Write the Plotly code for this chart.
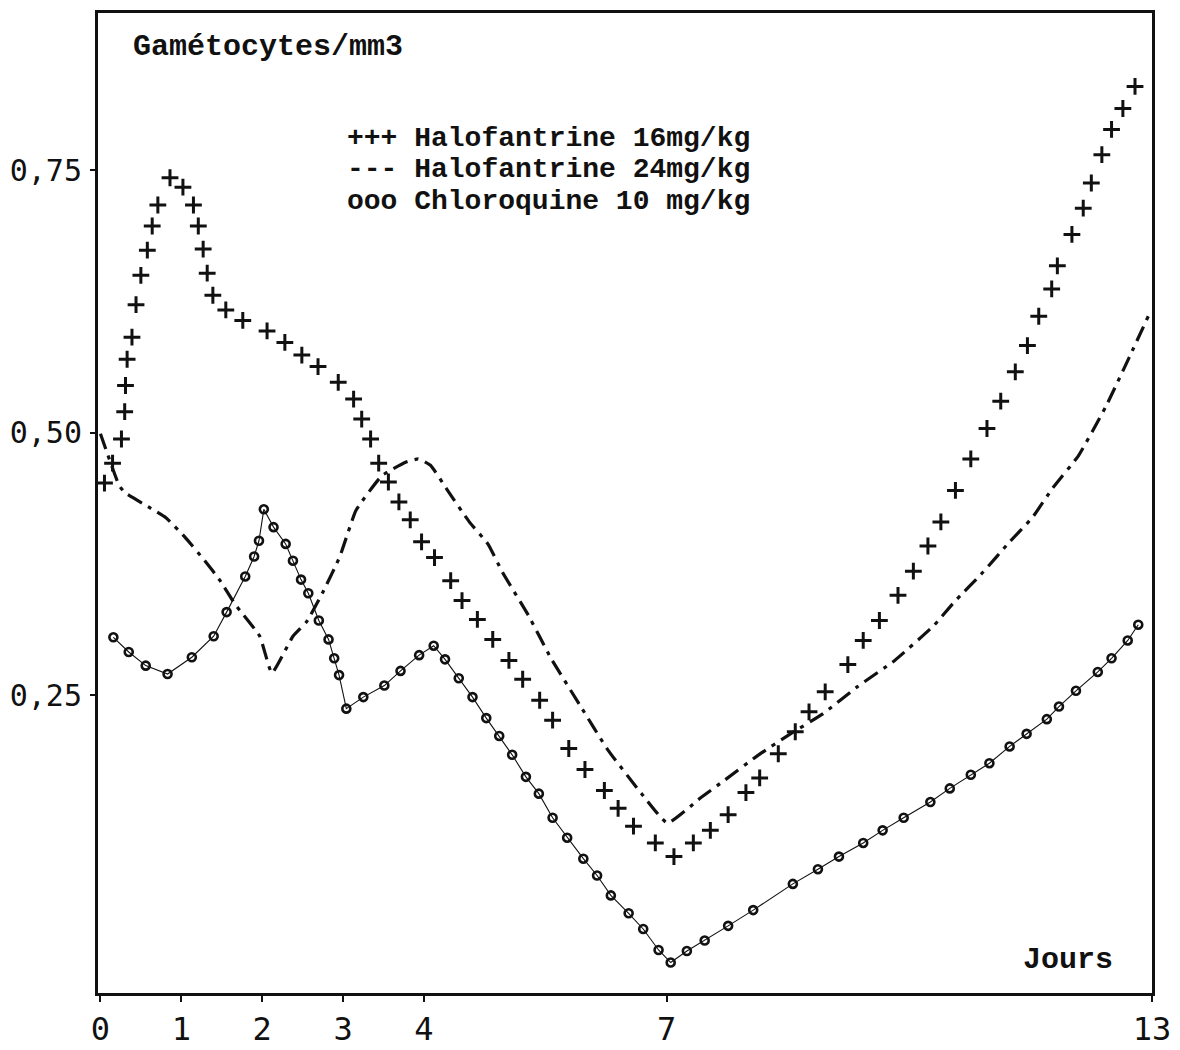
import plotly.graph_objects as go

# ---- Data (days, gametocytes/mm3) ----
halo16_days = [0.05, 0.15, 0.26, 0.30, 0.31, 0.33, 0.39, 0.44, 0.50, 0.58, 0.64, 0.71, 0.86,
               1.02, 1.15, 1.21, 1.27, 1.32, 1.39, 1.55, 1.76, 2.06, 2.28, 2.49, 2.69, 2.94,
               3.13, 3.23, 3.34, 3.44, 3.56, 3.69, 3.83, 3.97, 4.13, 4.33, 4.47, 4.66, 4.85,
               5.05, 5.22, 5.43, 5.59, 5.79, 5.99, 6.23, 6.40, 6.59, 6.86, 7.09, 7.33, 7.54,
               7.76, 7.98, 8.15, 8.38, 8.59, 8.76, 8.96, 9.24, 9.43, 9.63, 9.86, 10.05, 10.23,
               10.39, 10.57, 10.76, 10.96, 11.13, 11.31, 11.46, 11.60, 11.76, 11.83, 12.01,
               12.15, 12.25, 12.38, 12.50, 12.64, 12.79]
halo16_vals = [0.452, 0.471, 0.494, 0.520, 0.545, 0.570, 0.591, 0.622, 0.650, 0.674, 0.697, 0.717, 0.743,
               0.734, 0.717, 0.697, 0.675, 0.652, 0.631, 0.617, 0.607, 0.597, 0.586, 0.574, 0.563, 0.548,
               0.532, 0.513, 0.494, 0.471, 0.453, 0.434, 0.417, 0.396, 0.381, 0.359, 0.340, 0.322, 0.303,
               0.283, 0.265, 0.245, 0.226, 0.199, 0.179, 0.159, 0.142, 0.125, 0.109, 0.096, 0.109, 0.121,
               0.136, 0.157, 0.171, 0.194, 0.215, 0.234, 0.253, 0.279, 0.302, 0.321, 0.345, 0.368, 0.392,
               0.415, 0.445, 0.475, 0.504, 0.530, 0.558, 0.583, 0.611, 0.637, 0.659, 0.689,
               0.714, 0.738, 0.765, 0.789, 0.809, 0.830]

halo24_days = [0.0, 0.23, 0.30, 0.60, 0.81, 1.05, 1.29, 1.48, 1.66, 1.97, 2.12, 2.38, 2.55, 2.75,
               2.96, 3.16, 3.48, 3.78, 3.93, 4.08, 4.30, 4.56, 4.79, 4.97, 5.29, 5.57, 5.93, 6.27,
               6.69, 7.01, 7.42, 7.72, 8.12, 8.53, 8.93, 9.36, 9.82, 10.30, 10.56, 10.91, 11.24,
               11.52, 11.77, 12.09, 12.43, 12.72, 12.96]
halo24_vals = [0.499, 0.450, 0.443, 0.429, 0.419, 0.400, 0.378, 0.359, 0.337, 0.306, 0.271, 0.306, 0.320, 0.348,
               0.382, 0.426, 0.459, 0.472, 0.475, 0.469, 0.444, 0.415, 0.394, 0.367, 0.326, 0.285, 0.240, 0.198,
               0.156, 0.128, 0.152, 0.169, 0.192, 0.213, 0.232, 0.258, 0.283, 0.316, 0.339, 0.367, 0.396,
               0.419, 0.447, 0.478, 0.525, 0.572, 0.612]

chloro_days = [0.16, 0.35, 0.56, 0.83, 1.13, 1.40, 1.56, 1.79, 1.90, 1.96, 2.02, 2.14, 2.29, 2.38,
               2.48, 2.57, 2.70, 2.82, 2.89, 2.95, 3.04, 3.25, 3.51, 3.71, 3.94, 4.12, 4.26, 4.43,
               4.60, 4.77, 4.93, 5.09, 5.26, 5.42, 5.59, 5.77, 5.97, 6.14, 6.31, 6.53, 6.71, 6.90,
               7.05, 7.25, 7.47, 7.76, 8.07, 8.56, 8.87, 9.13, 9.43, 9.67, 9.93, 10.26, 10.50,
               10.76, 10.99, 11.24, 11.45, 11.70, 11.85, 12.06, 12.33, 12.50, 12.70, 12.83]
chloro_vals = [0.305, 0.291, 0.278, 0.270, 0.286, 0.306, 0.329, 0.363, 0.382, 0.397, 0.427, 0.410, 0.394, 0.378,
               0.360, 0.347, 0.321, 0.303, 0.285, 0.269, 0.237, 0.248, 0.259, 0.273, 0.288, 0.297, 0.284, 0.266,
               0.248, 0.228, 0.211, 0.193, 0.172, 0.156, 0.133, 0.114, 0.094, 0.078, 0.059, 0.042, 0.027, 0.007,
               -0.005, 0.006, 0.016, 0.030, 0.045, 0.070, 0.084, 0.096, 0.109, 0.121, 0.133, 0.148, 0.161,
               0.174, 0.185, 0.201, 0.213, 0.227, 0.239, 0.254, 0.272, 0.285, 0.302, 0.317]

x_tick_vals = [0, 1, 2, 3, 4, 7, 13]
x_tick_text = ["0", "1", "2", "3", "4", "7", "13"]
y_tick_vals = [0.25, 0.50, 0.75]
y_tick_text = ["0,25", "0,50", "0,75"]

legend_lines = ["+++ Halofantrine 16mg/kg",
                "--- Halofantrine 24mg/kg",
                "ooo Chloroquine 10 mg/kg"]
y_title = "Gamétocytes/mm3"
x_title = "Jours"

INK = "#111111"
TYPE_FONT = "Liberation Mono"
TICK_FONT = "DejaVu Sans Mono"

fig = go.Figure()

fig.add_trace(go.Scatter(
    x=chloro_days, y=chloro_vals, mode="lines+markers",
    line=dict(color=INK, width=1.1),
    marker=dict(symbol="circle-open", size=8, color=INK, line=dict(width=2.6, color=INK)),
    showlegend=False, name=legend_lines[2]))

fig.add_trace(go.Scatter(
    x=halo24_days, y=halo24_vals, mode="lines",
    line=dict(color=INK, width=3.2, dash="16px,7px,4px,7px", shape="spline", smoothing=0.4),
    showlegend=False, name=legend_lines[1]))

fig.add_trace(go.Scatter(
    x=halo16_days, y=halo16_vals, mode="markers",
    marker=dict(symbol="cross-thin-open", size=12, color=INK, line=dict(width=3, color=INK)),
    showlegend=False, name=legend_lines[0]))

# Legend lines as typewritten text
legend_y = [0.872, 0.840, 0.808]
for txt, yy in zip(legend_lines, legend_y):
    fig.add_annotation(text=txt, xref="paper", yref="paper", x=0.2346, y=yy,
                       xanchor="left", yanchor="middle", showarrow=False,
                       font=dict(family=TYPE_FONT, size=28, color=INK, weight="bold"))

fig.add_annotation(text=y_title, xref="paper", yref="paper", x=0.031, y=0.965,
                   xanchor="left", yanchor="middle", showarrow=False,
                   font=dict(family=TYPE_FONT, size=30, color=INK, weight="bold"))
fig.add_annotation(text=x_title, xref="paper", yref="paper", x=0.965, y=0.034,
                   xanchor="right", yanchor="middle", showarrow=False,
                   font=dict(family=TYPE_FONT, size=30, color=INK, weight="bold"))

fig.update_layout(
    width=1172, height=1042,
    margin=dict(l=87, r=28, t=2, b=44),
    paper_bgcolor="white", plot_bgcolor="white",
    xaxis=dict(range=[-0.03, 13.0], tickvals=x_tick_vals, ticktext=x_tick_text,
               showgrid=False, zeroline=False, showline=True, mirror=True,
               linecolor=INK, linewidth=3, ticks="outside", ticklen=6, tickwidth=1.5,
               tickcolor=INK, tickfont=dict(family=TICK_FONT, size=32, color=INK)),
    yaxis=dict(range=[-0.034, 0.900], tickvals=y_tick_vals, ticktext=y_tick_text,
               showgrid=False, zeroline=False, showline=True, mirror=True,
               linecolor=INK, linewidth=3, ticks="outside", ticklen=5, tickwidth=1.5,
               tickcolor=INK, ticklabelstandoff=2,
               tickfont=dict(family=TICK_FONT, size=30, color=INK)),
)

fig.write_html("out.html")
